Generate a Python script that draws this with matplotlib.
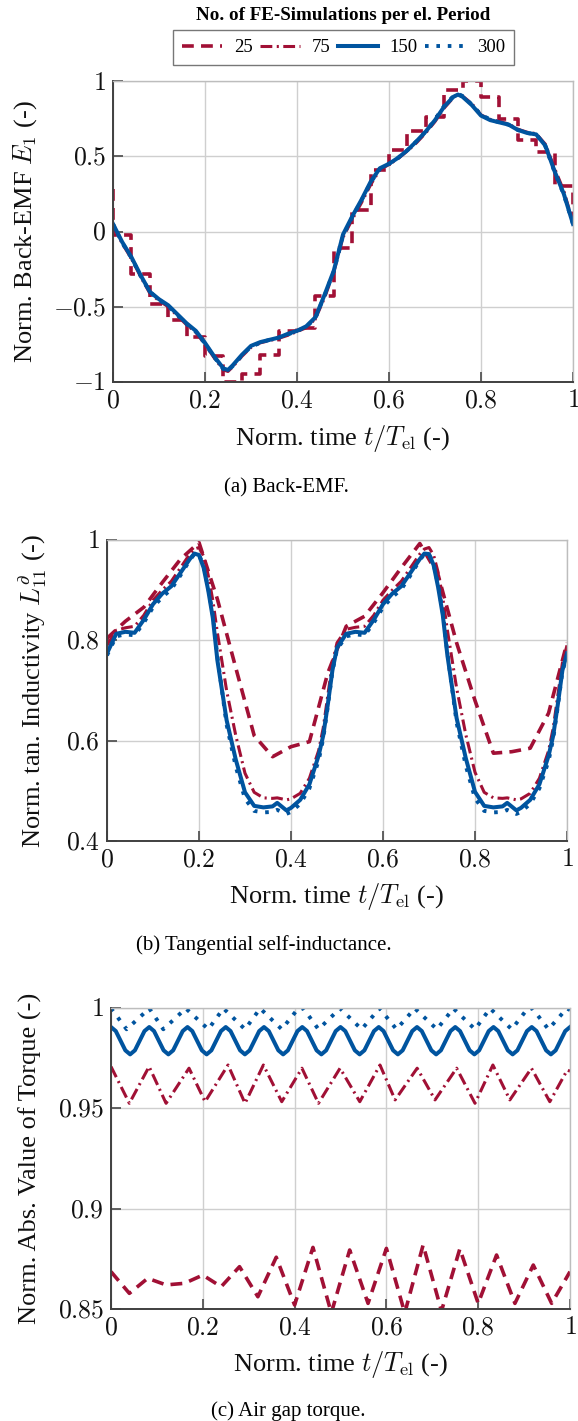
import numpy as np
import matplotlib
matplotlib.use("Agg")
import matplotlib.pyplot as plt

plt.rcParams['font.family'] = ['Liberation Serif', 'DejaVu Serif']
plt.rcParams['mathtext.fontset'] = 'cm'
plt.rcParams['lines.scale_dashes'] = False

RED = '#A11035'
BLUE = '#00549F'

series_labels = ['25', '75', '150', '300']
legend_title = 'No. of FE-Simulations per el. Period'

# ---------------- (a) Back-EMF ----------------
emf_t25 = [0.00, 0.00, 0.04, 0.08, 0.12, 0.16, 0.20, 0.24, 0.28, 0.32, 0.36, 0.40, 0.44,
           0.48, 0.52, 0.56, 0.60, 0.64, 0.68, 0.72, 0.76, 0.80, 0.84, 0.88, 0.92, 0.96,
           1.00, 1.00]
emf_25 = [0.28, -0.02, -0.28, -0.48, -0.59, -0.70, -0.83, -1.00, -0.95, -0.82, -0.66, -0.64,
          -0.43, -0.11, 0.14, 0.41, 0.54, 0.67, 0.76, 0.94, 0.997, 0.896, 0.75, 0.61, 0.53,
          0.30, 0.30, 0.05]

emf_t = [0.00, 0.02, 0.04, 0.06, 0.08, 0.10, 0.12, 0.14, 0.16, 0.18, 0.20, 0.22, 0.24, 0.25,
         0.26, 0.28, 0.30, 0.32, 0.34, 0.36, 0.38, 0.40, 0.42, 0.44, 0.46, 0.48, 0.50, 0.52,
         0.54, 0.56, 0.58, 0.60, 0.62, 0.64, 0.66, 0.68, 0.70, 0.72, 0.74, 0.75, 0.76, 0.78,
         0.80, 0.82, 0.84, 0.86, 0.88, 0.90, 0.92, 0.94, 0.96, 0.98, 1.00]
emf_75 = [0.04, -0.08, -0.18, -0.30, -0.41, -0.46, -0.50, -0.56, -0.62, -0.67, -0.75, -0.84,
          -0.92, -0.93, -0.90, -0.83, -0.77, -0.74, -0.725, -0.71, -0.69, -0.665, -0.64,
          -0.58, -0.44, -0.27, -0.04, 0.08, 0.19, 0.31, 0.41, 0.445, 0.485, 0.535, 0.59,
          0.655, 0.73, 0.82, 0.89, 0.915, 0.90, 0.85, 0.775, 0.745, 0.73, 0.715, 0.68, 0.66,
          0.65, 0.58, 0.42, 0.27, 0.06]
emf_150 = [0.05, -0.07, -0.17, -0.29, -0.40, -0.45, -0.49, -0.55, -0.61, -0.66, -0.74, -0.83,
           -0.91, -0.92, -0.89, -0.82, -0.76, -0.735, -0.72, -0.705, -0.68, -0.66, -0.63,
           -0.57, -0.42, -0.26, -0.02, 0.10, 0.21, 0.33, 0.42, 0.45, 0.49, 0.54, 0.60, 0.665,
           0.74, 0.83, 0.895, 0.91, 0.895, 0.84, 0.77, 0.74, 0.725, 0.71, 0.675, 0.655, 0.645,
           0.57, 0.40, 0.25, 0.05]
emf_300 = [0.05, -0.075, -0.175, -0.295, -0.40, -0.455, -0.495, -0.555, -0.615, -0.665,
           -0.745, -0.835, -0.915, -0.925, -0.895, -0.825, -0.765, -0.74, -0.72, -0.705,
           -0.685, -0.66, -0.635, -0.575, -0.425, -0.265, -0.03, 0.095, 0.205, 0.325, 0.415,
           0.45, 0.49, 0.54, 0.60, 0.665, 0.745, 0.835, 0.90, 0.915, 0.90, 0.845, 0.775,
           0.745, 0.725, 0.71, 0.675, 0.655, 0.645, 0.565, 0.395, 0.245, 0.05]

# ---------------- (b) Inductance ----------------
ind_t25 = [0.00, 0.04, 0.08, 0.12, 0.16, 0.20, 0.24, 0.28, 0.32, 0.36, 0.40, 0.44, 0.48,
           0.52, 0.56, 0.60, 0.64, 0.68, 0.72, 0.76, 0.80, 0.84, 0.88, 0.92, 0.96, 1.00]
ind_25 = [0.804, 0.838, 0.866, 0.915, 0.962, 0.995, 0.882, 0.745, 0.610, 0.568, 0.588, 0.598,
          0.735, 0.828, 0.848, 0.895, 0.945, 0.993, 0.930, 0.795, 0.680, 0.575, 0.578, 0.585,
          0.655, 0.795]

ind_t = [0.00, 0.02, 0.04, 0.06, 0.08, 0.10, 0.12, 0.14, 0.16, 0.18, 0.19, 0.20, 0.21, 0.22,
         0.23, 0.24, 0.26, 0.28, 0.30, 0.32, 0.34, 0.36, 0.37, 0.39, 0.40, 0.42, 0.44, 0.46,
         0.47, 0.48, 0.49,
         0.50, 0.52, 0.54, 0.56, 0.58, 0.60, 0.62, 0.64, 0.66, 0.68, 0.69, 0.70, 0.71, 0.72,
         0.73, 0.74, 0.76, 0.78, 0.80, 0.82, 0.84, 0.86, 0.87, 0.89, 0.90, 0.92, 0.94, 0.96,
         0.97, 0.98, 0.99, 1.00]
ind_75 = [0.790, 0.820, 0.825, 0.828, 0.850, 0.880, 0.900, 0.918, 0.945, 0.972, 0.982, 0.985,
          0.968, 0.930, 0.880, 0.815, 0.700, 0.610, 0.535, 0.497, 0.486, 0.485, 0.486, 0.482,
          0.484, 0.495, 0.525, 0.580, 0.625, 0.690, 0.755,
          0.795, 0.822, 0.826, 0.828, 0.850, 0.880, 0.900, 0.918, 0.945, 0.972, 0.982, 0.985,
          0.970, 0.935, 0.885, 0.820, 0.705, 0.612, 0.537, 0.497, 0.486, 0.485, 0.486, 0.482,
          0.484, 0.495, 0.525, 0.580, 0.625, 0.690, 0.755, 0.790]
ind_150 = [0.774, 0.813, 0.817, 0.815, 0.841, 0.872, 0.893, 0.908, 0.935, 0.962, 0.973, 0.970,
           0.945, 0.900, 0.845, 0.760, 0.641, 0.562, 0.497, 0.470, 0.467, 0.469, 0.476, 0.461,
           0.466, 0.482, 0.513, 0.570, 0.610, 0.672, 0.740,
           0.785, 0.813, 0.817, 0.815, 0.841, 0.872, 0.893, 0.908, 0.935, 0.962, 0.973, 0.972,
           0.950, 0.905, 0.850, 0.770, 0.645, 0.565, 0.498, 0.470, 0.467, 0.469, 0.476, 0.461,
           0.466, 0.482, 0.513, 0.570, 0.610, 0.672, 0.740, 0.774]
ind_300 = [0.770, 0.808, 0.812, 0.810, 0.835, 0.866, 0.886, 0.902, 0.930, 0.960, 0.972, 0.971,
           0.948, 0.905, 0.852, 0.768, 0.632, 0.548, 0.484, 0.460, 0.457, 0.458, 0.462, 0.454,
           0.458, 0.474, 0.505, 0.560, 0.604, 0.668, 0.738,
           0.782, 0.808, 0.812, 0.810, 0.835, 0.866, 0.886, 0.902, 0.930, 0.960, 0.972, 0.971,
           0.952, 0.910, 0.856, 0.775, 0.636, 0.550, 0.485, 0.460, 0.457, 0.458, 0.462, 0.454,
           0.458, 0.474, 0.505, 0.560, 0.604, 0.668, 0.738, 0.770]

# ---------------- (c) Torque ----------------
tq_t25 = [0.00, 0.04, 0.08, 0.12, 0.16, 0.20, 0.24, 0.28, 0.32, 0.36, 0.40, 0.44, 0.48,
          0.52, 0.56, 0.60, 0.64, 0.68, 0.72, 0.76, 0.80, 0.84, 0.88, 0.92, 0.96, 1.00]
tq_25 = [0.8686, 0.8578, 0.8653, 0.8620, 0.8628, 0.8669, 0.8611, 0.8711, 0.8561, 0.8758,
         0.8520, 0.8807, 0.8480, 0.8794, 0.8528, 0.8802, 0.8480, 0.8819, 0.8490, 0.8800,
         0.8528, 0.8769, 0.8528, 0.8719, 0.8528, 0.8686]

tq_t75 = [0.000, 0.040, 0.083, 0.120, 0.170, 0.205, 0.255, 0.292, 0.332, 0.372, 0.416, 0.452,
          0.499, 0.542, 0.586, 0.619, 0.667, 0.706, 0.753, 0.793, 0.832, 0.869, 0.916, 0.956,
          0.994, 1.000]
tq_75 = [0.9708, 0.9525, 0.9708, 0.9525, 0.9700, 0.9533, 0.9716, 0.9525, 0.9716, 0.9533,
         0.9700, 0.9525, 0.9700, 0.9533, 0.9716, 0.9542, 0.9700, 0.9542, 0.9700, 0.9525,
         0.9716, 0.9542, 0.9700, 0.9533, 0.9691, 0.9685]

tq_t150 = np.arange(97) / 96
tq_150 = [0.9905, 0.9885, 0.9837, 0.9789, 0.9769, 0.9789, 0.9837, 0.9885,
          0.9905, 0.9885, 0.9837, 0.9789, 0.9769, 0.9789, 0.9837, 0.9885,
          0.9905, 0.9885, 0.9837, 0.9789, 0.9769, 0.9789, 0.9837, 0.9885,
          0.9905, 0.9885, 0.9837, 0.9789, 0.9769, 0.9789, 0.9837, 0.9885,
          0.9905, 0.9885, 0.9837, 0.9789, 0.9769, 0.9789, 0.9837, 0.9885,
          0.9905, 0.9885, 0.9837, 0.9789, 0.9769, 0.9789, 0.9837, 0.9885,
          0.9905, 0.9885, 0.9837, 0.9789, 0.9769, 0.9789, 0.9837, 0.9885,
          0.9905, 0.9885, 0.9837, 0.9789, 0.9769, 0.9789, 0.9837, 0.9885,
          0.9905, 0.9885, 0.9837, 0.9789, 0.9769, 0.9789, 0.9837, 0.9885,
          0.9905, 0.9885, 0.9837, 0.9789, 0.9769, 0.9789, 0.9837, 0.9885,
          0.9905, 0.9885, 0.9837, 0.9789, 0.9769, 0.9789, 0.9837, 0.9885,
          0.9905, 0.9885, 0.9837, 0.9789, 0.9769, 0.9789, 0.9837, 0.9885,
          0.9905]

tq_t300 = [0.000, 0.034, 0.0835, 0.114, 0.163, 0.212, 0.245, 0.292, 0.325, 0.372, 0.408, 0.419,
           0.452, 0.499, 0.546, 0.585, 0.622, 0.662, 0.710, 0.746, 0.793, 0.826, 0.873, 0.908,
           0.918, 0.953, 0.993, 1.000]
tq_300 = [0.9998, 0.9894, 0.9998, 0.9894, 0.9998, 0.9894, 0.9998, 0.9894, 0.9998, 0.9894,
          0.9998, 0.9998, 0.9894, 0.9998, 0.9894, 0.9998, 0.9894, 0.9998, 0.9894, 0.9998,
          0.9894, 0.9998, 0.9894, 0.9998, 0.9998, 0.9894, 0.9998, 0.9990]

x_ticks = [0, 0.2, 0.4, 0.6, 0.8, 1.0]
x_ticklabels = ['0', '0.2', '0.4', '0.6', '0.8', '1']

styles = {
    '25': dict(color=RED, lw=2.6, linestyle=(0, (8.5, 5.2))),
    '75': dict(color=RED, lw=2.2, linestyle=(0, (8.5, 3.2, 1.5, 3.2))),
    '150': dict(color=BLUE, lw=2.9, linestyle='-'),
    '300': dict(color=BLUE, lw=2.8, linestyle=(0, (2.6, 5.6))),
}

W, H = 578, 1421
fig = plt.figure(figsize=(W / 100, H / 100), dpi=100)

TICK_FS = 18.5
LABEL_FS = 19


def add_axes(l, r, t, b):
    return fig.add_axes([l / W, 1 - b / H, (r - l) / W, (b - t) / H])


def style_axes(ax, ylim, yticks, yticklabels, ylabel, ylab_x):
    ax.set_xlim(0, 1)
    ax.set_ylim(*ylim)
    ax.set_xticks(x_ticks)
    ax.set_xticklabels(['$' + s + '$' for s in x_ticklabels])
    ax.set_yticks(yticks)
    ax.set_yticklabels(['$' + s + '$' for s in yticklabels])
    ax.grid(True, color='#cfcfcf', lw=1.0)
    ax.set_axisbelow(True)
    for s in ['top', 'right']:
        ax.spines[s].set_color('#bdbdbd')
        ax.spines[s].set_linewidth(1.0)
    for s in ['left', 'bottom']:
        ax.spines[s].set_color('#404040')
        ax.spines[s].set_linewidth(1.4)
    ax.tick_params(direction='in', length=7.5, width=1.3, color='#555555',
                   labelsize=TICK_FS, labelcolor='#111111')
    ax.tick_params(axis='x', pad=6)
    ax.tick_params(axis='y', pad=5)
    ax.set_xlabel('Norm. time $t/T_{\\mathrm{el}}$ (-)', fontsize=LABEL_FS, color='#111111')
    ax.xaxis.set_label_coords(0.5, -56 / 301)
    ax.xaxis.label.set_verticalalignment('center')
    ax.set_ylabel(ylabel, fontsize=LABEL_FS, color='#111111')
    ax.yaxis.set_label_coords(ylab_x, 0.5)
    ax.yaxis.label.set_verticalalignment('center')


# panel a
ax_a = add_axes(113, 573, 81, 382)
handles = []
h, = ax_a.plot(emf_t25, emf_25, drawstyle='steps-post', **styles['25'])
handles.append(h)
h, = ax_a.plot(emf_t, emf_75, **styles['75'])
handles.append(h)
h, = ax_a.plot(emf_t, emf_150, **styles['150'])
handles.append(h)
h, = ax_a.plot(emf_t, emf_300, **styles['300'])
handles.append(h)
style_axes(ax_a, (-1, 1), [-1, -0.5, 0, 0.5, 1], ['-1', '-0.5', '0', '0.5', '1'],
           'Norm. Back-EMF $E_1$ (-)', (25 - 113) / 460)

# panel b
ax_b = add_axes(107, 567, 540, 841)
ax_b.plot(ind_t25, ind_25, **styles['25'])
ax_b.plot(ind_t, ind_75, **styles['75'])
ax_b.plot(ind_t, ind_150, **styles['150'])
ax_b.plot(ind_t, ind_300, **styles['300'])
style_axes(ax_b, (0.4, 1), [0.4, 0.6, 0.8, 1.0], ['0.4', '0.6', '0.8', '1'],
           'Norm. tan. Inductivity $L_{11}^{\\partial}$ (-)', (33 - 107) / 460)

# panel c
ax_c = add_axes(111, 570, 1008, 1309)
ax_c.plot(tq_t25, tq_25, **styles['25'])
ax_c.plot(tq_t75, tq_75, **styles['75'])
ax_c.plot(tq_t150, tq_150, **styles['150'])
ax_c.plot(tq_t300, tq_300, **styles['300'])
style_axes(ax_c, (0.85, 1), [0.85, 0.9, 0.95, 1.0], ['0.85', '0.9', '0.95', '1'],
           'Norm. Abs. Value of Torque (-)', (30 - 111) / 459)

# captions
fig.text(286 / W, 1 - 488 / H, '(a) Back-EMF.', ha='center', va='center', fontsize=15)
fig.text(264 / W, 1 - 945 / H, '(b) Tangential self-inductance.', ha='center', va='center',
         fontsize=15)
fig.text(288 / W, 1 - 1411 / H, '(c) Air gap torque.', ha='center', va='center', fontsize=15)

# legend
fig.text(343 / W, 1 - 16 / H, legend_title, ha='center', va='center', fontsize=13.7,
         fontweight='bold')
leg = fig.legend(handles, series_labels, loc='center', bbox_to_anchor=(343.5 / W, 1 - 47.5 / H),
                 ncol=4, frameon=True, fancybox=False, edgecolor='#555555', fontsize=13.5,
                 handlelength=2.15, handletextpad=0.62, columnspacing=0.38, borderpad=0.5,
                 borderaxespad=0)
leg.get_frame().set_linewidth(1.0)

fig.savefig('out.png', dpi=100)
